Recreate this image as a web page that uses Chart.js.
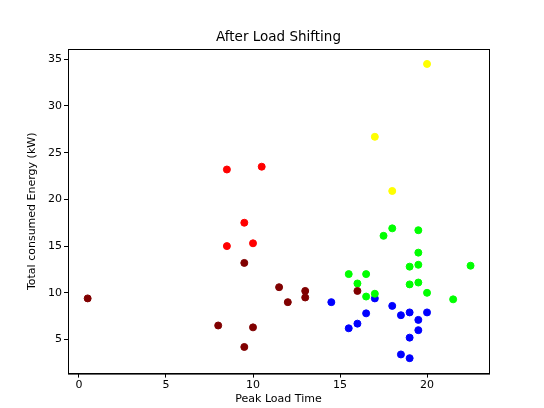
<!DOCTYPE html>
<html><head><script src="https://cdn.jsdelivr.net/npm/chart.js"></script>
<style>body{margin:0;background:#fff}#w{width:544px;height:408px}</style></head>
<body><div id="w"><canvas id="c"></canvas></div>
<script>
const yellowX=[20,17,18], yellowY=[34.5,26.7,20.9];
const redX=[8.5,10.5,9.5,8.5,10], redY=[23.2,23.5,17.5,15,15.3];
const darkX=[0.5,9.5,11.5,12,13,13,16,8,10,9.5], darkY=[9.4,13.2,10.6,9,10.2,9.5,10.2,6.5,6.3,4.2];
const greenX=[15.5,16,16.5,16.5,17,17.5,18,19.5,19.5,19.5,19,19,19.5,20,21.5,22.5];
const greenY=[12,11,12,9.6,9.9,16.1,16.9,16.7,14.3,13,12.8,10.9,11.1,10,9.3,12.9];
const blueX=[14.5,15.5,16,16.5,17,18,18.5,19,19.5,19.5,19,18.5,19,20];
const blueY=[9,6.2,6.7,7.8,9.4,8.6,7.6,7.9,7.1,6,5.2,3.4,3,7.9];
const xTicks=[0,5,10,15,20], yTicks=[5,10,15,20,25,30,35];
const titleText='After Load Shifting', yTitle='Total consumed Energy (kW)';
const mk=(xs,ys)=>xs.map((x,i)=>({x,y:ys[i]}));
const ds=[[darkX,darkY,'#800000'],[redX,redY,'#ff0000'],[yellowX,yellowY,'#ffff00'],[greenX,greenY,'#00ff00'],[blueX,blueY,'#0000ff']]
 .map(([x,y,c])=>({data:mk(x,y),backgroundColor:c,borderColor:c,pointRadius:3.5,pointHoverRadius:3.5}));
Chart.defaults.font.family='DejaVu Sans';Chart.defaults.color='#000';
const deco={id:'deco',afterDraw(ch){const {ctx,chartArea:a}=ch;ctx.save();
 ctx.strokeStyle='#000';ctx.lineWidth=1;ctx.strokeRect(a.left+0.5,a.top+0.5,a.right-a.left,a.bottom-a.top);
 ctx.fillStyle='#000';ctx.textAlign='center';ctx.textBaseline='bottom';
 ctx.font='13.5px DejaVu Sans';ctx.fillText(titleText,(a.left+a.right)/2,a.top-5);
 ctx.font='11px DejaVu Sans';ctx.translate(32,(a.top+a.bottom)/2);ctx.rotate(-Math.PI/2);ctx.textBaseline='middle';ctx.fillText(yTitle,0,0);
 ctx.restore();}};
const tk={display:true,drawOnChartArea:false,drawTicks:true,tickLength:4,color:'#000'};
new Chart(document.getElementById('c'),{type:'scatter',data:{datasets:ds},plugins:[deco],options:{
 animation:false,responsive:true,maintainAspectRatio:false,
 layout:{padding:{top:49,right:55,bottom:2,left:0}},
 plugins:{legend:{display:false},tooltip:{enabled:false}},
 scales:{
  x:{type:'linear',min:-0.63,max:23.56,grid:tk,border:{color:'#000'},
     afterBuildTicks:a=>{a.ticks=xTicks.map(v=>({value:v}))},
     ticks:{font:{size:11},autoSkip:false,maxRotation:0,padding:1},
     title:{display:true,text:'Peak Load Time',font:{size:11},padding:{top:0,bottom:0}}},
  y:{type:'linear',min:1.35,max:36.1,grid:tk,border:{color:'#000'},afterFit:s=>{s.width=68},
     afterBuildTicks:a=>{a.ticks=yTicks.map(v=>({value:v}))},
     ticks:{font:{size:11},autoSkip:false,padding:2}}
 }}});
</script></body></html>
